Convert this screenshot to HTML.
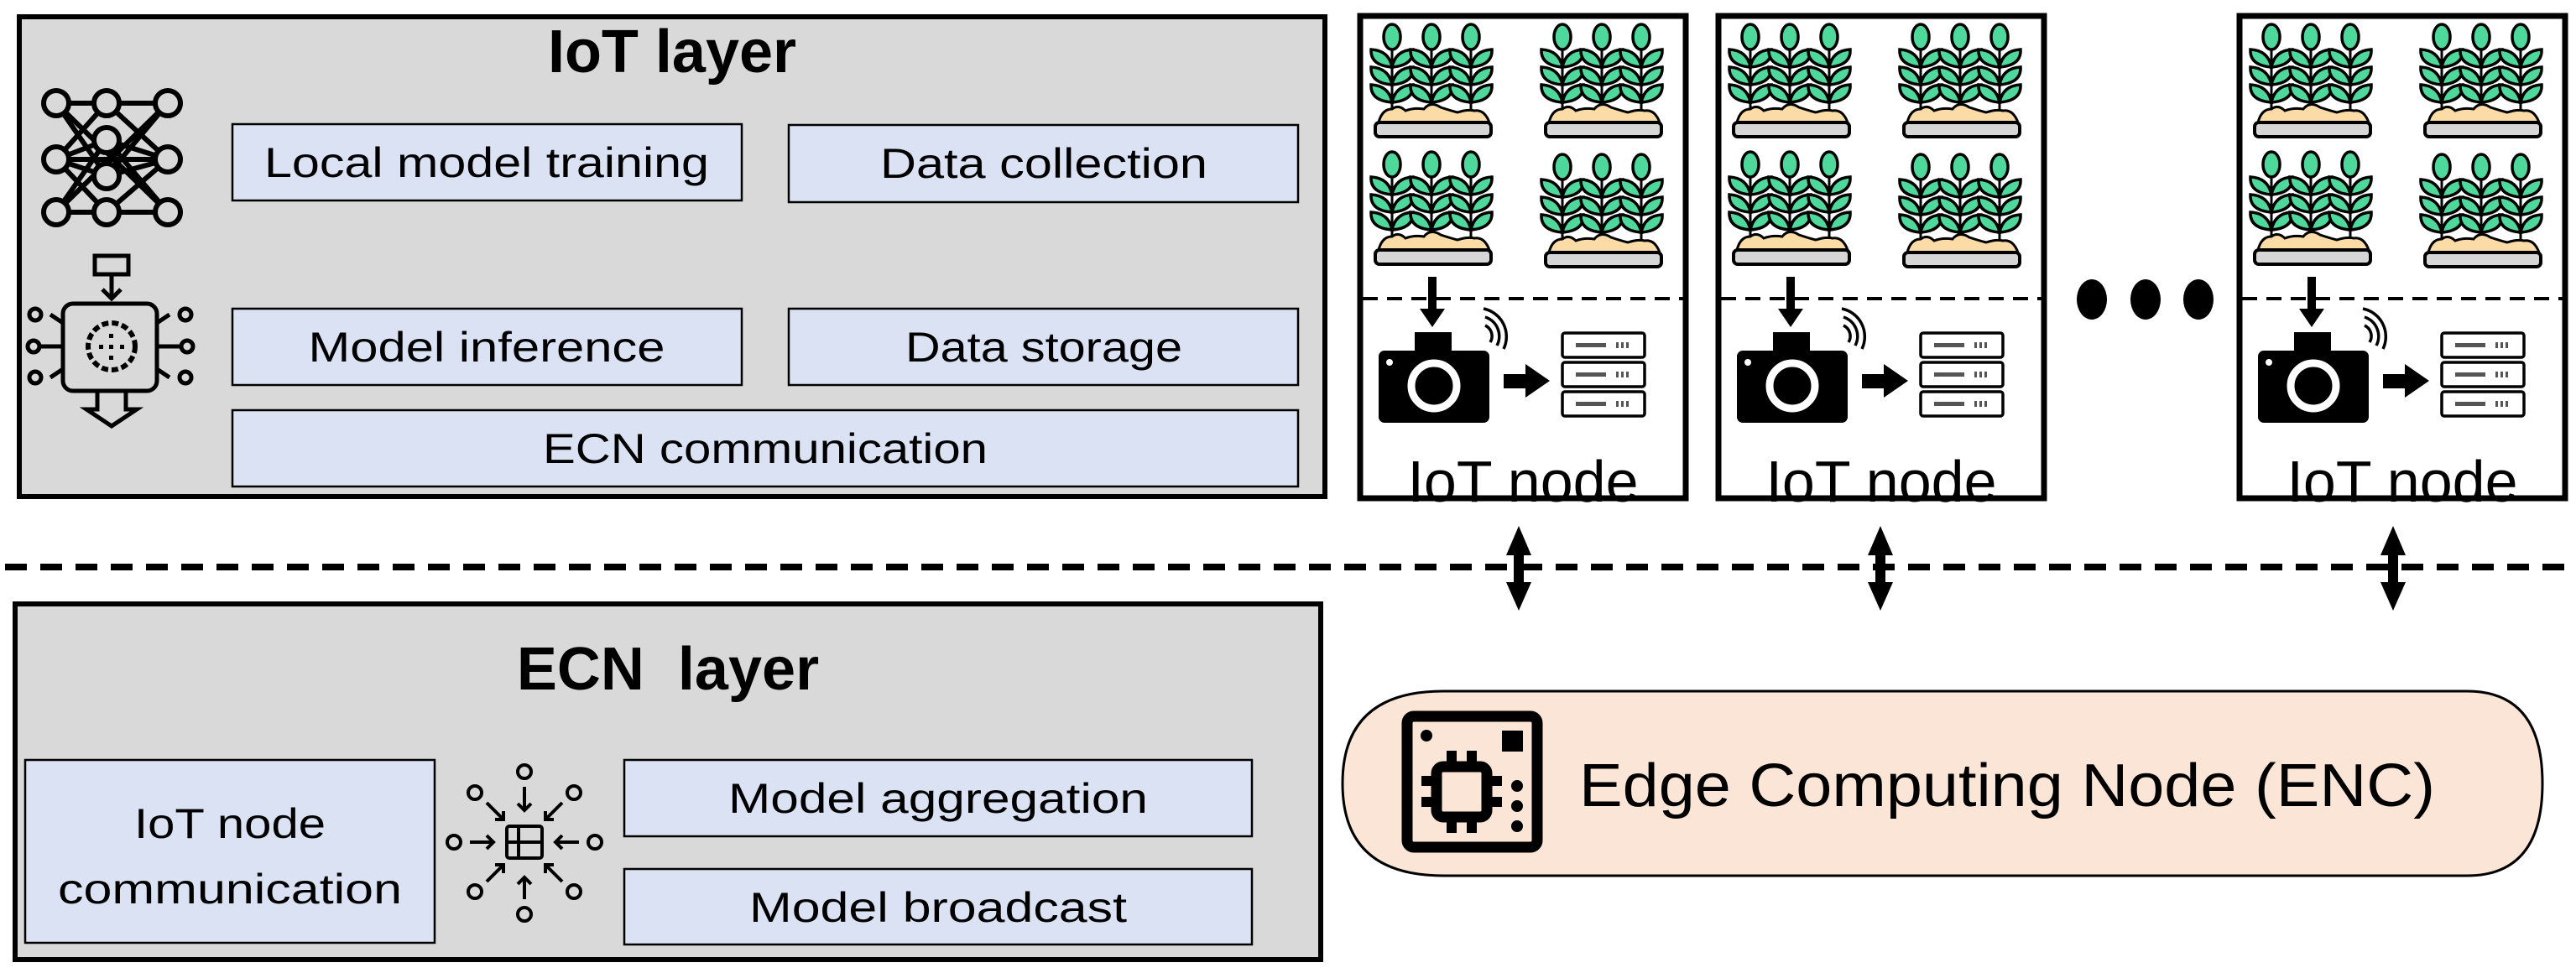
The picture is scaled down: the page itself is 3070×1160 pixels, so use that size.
<!DOCTYPE html>
<html><head><meta charset="utf-8"><style>
html,body{margin:0;padding:0;background:#fff;}
svg{display:block;}
text{font-family:"Liberation Sans",sans-serif;fill:#000;}
</style></head><body>
<svg width="3070" height="1160" viewBox="0 0 3070 1160" xmlns="http://www.w3.org/2000/svg">
<defs>
<g id="stalk">
  <line x1="0" y1="14" x2="0" y2="102" stroke="#000" stroke-width="3"/>
  <ellipse cx="0" cy="14" rx="10" ry="15" fill="#4fd89c" stroke="#000" stroke-width="3.5"/>
  <g id="lv">
    <path d="M0 50 Q-26 48 -25 29 Q-4 30 0 50 Z" fill="#4fd89c" stroke="#000" stroke-width="3.5"/>
    <path d="M0 50 Q26 48 25 29 Q4 30 0 50 Z" fill="#4fd89c" stroke="#000" stroke-width="3.5"/>
  </g>
  <use href="#lv" y="21"/>
  <use href="#lv" y="42"/>
</g>
<g id="plant">
  <use href="#stalk" x="22"/>
  <use href="#stalk" x="69"/>
  <use href="#stalk" x="116"/>
  <path d="M6 116 Q10 100 22 100 Q30 94 38 102 Q48 98 60 100 Q68 90 80 98 Q92 102 100 104 Q112 100 120 102 Q132 100 138 116 Z" fill="#fcdca6" stroke="#000" stroke-width="3"/>
  <rect x="2" y="116" width="138" height="17" rx="5" fill="#d6d6d6" stroke="#000" stroke-width="4"/>
</g>
<g id="iotbox">
  <rect x="1621" y="19" width="388" height="575" fill="#fff" stroke="#000" stroke-width="7"/>
  <use href="#plant" x="1637" y="30"/>
  <use href="#plant" x="1840" y="30"/>
  <use href="#plant" x="1637" y="182"/>
  <use href="#plant" x="1840" y="185"/>
  <line x1="1624" y1="356" x2="2006" y2="356" stroke="#000" stroke-width="4" stroke-dasharray="18,11"/>
  <rect x="1702" y="330" width="10" height="40" fill="#000"/>
  <polygon points="1692,368 1722,368 1707,390" fill="#000"/>
  <rect x="1643" y="418" width="132" height="86" rx="7" fill="#000"/>
  <rect x="1686" y="396" width="44" height="28" fill="#000"/>
  <circle cx="1709" cy="460" r="27" fill="none" stroke="#fff" stroke-width="9"/>
  <circle cx="1656" cy="432" r="4" fill="#fff"/>
  <path d="M1770 388 A14 14 0 0 1 1776 408 M1770 378 A24 24 0 0 1 1784 412 M1768 368 A34 34 0 0 1 1792 416" fill="none" stroke="#000" stroke-width="3.5"/>
  <rect x="1792" y="446" width="28" height="17" fill="#000"/>
  <polygon points="1818,434 1847,454 1818,474" fill="#000"/>
  <g fill="#fff" stroke="#000" stroke-width="3.5">
    <rect x="1862" y="397" width="98" height="29" rx="3"/>
    <rect x="1862" y="432" width="98" height="29" rx="3"/>
    <rect x="1862" y="467" width="98" height="29" rx="3"/>
  </g>
  <g fill="#555">
    <rect x="1878" y="409" width="36" height="5"/><rect x="1878" y="444" width="36" height="5"/><rect x="1878" y="479" width="36" height="5"/>
    <rect x="1926" y="408" width="3" height="7"/><rect x="1932" y="408" width="3" height="7"/><rect x="1938" y="408" width="3" height="7"/>
    <rect x="1926" y="443" width="3" height="7"/><rect x="1932" y="443" width="3" height="7"/><rect x="1938" y="443" width="3" height="7"/>
    <rect x="1926" y="478" width="3" height="7"/><rect x="1932" y="478" width="3" height="7"/><rect x="1938" y="478" width="3" height="7"/>
  </g>
</g>
<g id="darrow">
  <rect x="-6" y="650" width="12" height="60" fill="#000"/>
  <polygon points="-15,662 15,662 0,627" fill="#000"/>
  <polygon points="-15,694 15,694 0,728" fill="#000"/>
</g>
</defs>

<!-- IoT layer -->
<rect x="23" y="20" width="1556" height="572" fill="#d9d9d9" stroke="#000" stroke-width="6"/>
<text x="801" y="86" font-size="72" font-weight="bold" text-anchor="middle">IoT layer</text>
<g fill="#dae2f3" stroke="#000" stroke-width="2.5">
  <rect x="277" y="148" width="607" height="91"/>
  <rect x="940" y="149" width="607" height="92"/>
  <rect x="277" y="368" width="607" height="91"/>
  <rect x="940" y="368" width="607" height="91"/>
  <rect x="277" y="489" width="1270" height="91"/>
</g>
<g font-size="50" text-anchor="middle">
  <text x="580" y="211" textLength="530" lengthAdjust="spacingAndGlyphs">Local model training</text>
  <text x="1244" y="212" textLength="390" lengthAdjust="spacingAndGlyphs">Data collection</text>
  <text x="580" y="431" textLength="425" lengthAdjust="spacingAndGlyphs">Model inference</text>
  <text x="1244" y="431" textLength="330" lengthAdjust="spacingAndGlyphs">Data storage</text>
  <text x="912" y="552" textLength="530" lengthAdjust="spacingAndGlyphs">ECN communication</text>
</g>
<!-- neural net icon -->
<g stroke="#000" stroke-width="6" fill="none">
  <line x1="67" y1="123" x2="200" y2="123"/><line x1="67" y1="253" x2="200" y2="253"/>
  <line x1="67" y1="190" x2="200" y2="190"/>
  <line x1="67" y1="123" x2="200" y2="253"/><line x1="200" y1="123" x2="67" y2="253"/>
  <line x1="67" y1="123" x2="127" y2="210"/><line x1="200" y1="123" x2="127" y2="210"/>
  <line x1="67" y1="253" x2="127" y2="167"/><line x1="200" y1="253" x2="127" y2="167"/>
  <line x1="67" y1="190" x2="127" y2="167"/><line x1="200" y1="190" x2="127" y2="210"/>
  <line x1="67" y1="190" x2="127" y2="210"/><line x1="200" y1="190" x2="127" y2="167"/>
  <line x1="127" y1="123" x2="67" y2="190"/><line x1="127" y1="123" x2="200" y2="190"/>
  <line x1="127" y1="253" x2="67" y2="190"/><line x1="127" y1="253" x2="200" y2="190"/>
</g>
<g stroke="#000" stroke-width="6" fill="#d9d9d9">
  <circle cx="67" cy="123" r="15"/><circle cx="127" cy="123" r="15"/><circle cx="200" cy="123" r="15"/>
  <circle cx="67" cy="190" r="15"/><circle cx="200" cy="190" r="15"/>
  <circle cx="127" cy="167" r="15"/><circle cx="127" cy="210" r="15"/>
  <circle cx="67" cy="253" r="15"/><circle cx="127" cy="253" r="15"/><circle cx="200" cy="253" r="15"/>
</g>
<!-- inference icon -->
<g stroke="#000" stroke-width="5" fill="none">
  <rect x="113" y="305" width="40" height="22"/>
  <line x1="133" y1="327" x2="133" y2="356"/>
  <polyline points="122,345 133,356 144,345"/>
  <rect x="75" y="362" width="112" height="104" rx="12"/>
  <circle cx="133" cy="413" r="28" stroke-dasharray="8,4" stroke-width="6"/>
  <path d="M75 385 L60 375 M75 413 L48 413 M75 440 L60 450 M187 385 L202 375 M187 413 L214 413 M187 440 L202 450"/>
  <circle cx="42" cy="375" r="7"/><circle cx="40" cy="413" r="7"/><circle cx="42" cy="450" r="7"/>
  <circle cx="221" cy="375" r="7"/><circle cx="223" cy="413" r="7"/><circle cx="221" cy="450" r="7"/>
  <path d="M116 466 L116 488 L103 488 L133 508 L163 488 L150 488 L150 466"/>
</g>
<g fill="#000"><rect x="130" y="398" width="5" height="5"/><rect x="130" y="411" width="5" height="5"/><rect x="130" y="424" width="5" height="5"/><rect x="118" y="411" width="5" height="5"/><rect x="143" y="411" width="5" height="5"/></g>

<!-- dashed separator -->
<line x1="6" y1="676" x2="3070" y2="676" stroke="#000" stroke-width="8" stroke-dasharray="26,16"/>

<!-- ECN layer -->
<rect x="18" y="720" width="1556" height="424" fill="#d9d9d9" stroke="#000" stroke-width="6"/>
<text x="796" y="822" font-size="72" font-weight="bold" text-anchor="middle" xml:space="preserve">ECN  layer</text>
<g fill="#dae2f3" stroke="#000" stroke-width="2.5">
  <rect x="30" y="906" width="488" height="218"/>
  <rect x="744" y="906" width="748" height="91"/>
  <rect x="744" y="1036" width="748" height="90"/>
</g>
<g font-size="50" text-anchor="middle">
  <text x="274" y="999" textLength="228" lengthAdjust="spacingAndGlyphs">IoT node</text>
  <text x="274" y="1077" textLength="410" lengthAdjust="spacingAndGlyphs">communication</text>
  <text x="1118" y="969" textLength="500" lengthAdjust="spacingAndGlyphs">Model aggregation</text>
  <text x="1118" y="1099" textLength="450" lengthAdjust="spacingAndGlyphs">Model broadcast</text>
</g>
<!-- aggregation icon -->
<g stroke="#000" stroke-width="4" fill="#d9d9d9">
  <rect x="604" y="985" width="42" height="38" rx="3"/>
  <circle cx="625" cy="920" r="8"/><circle cx="625" cy="1090" r="8"/>
  <circle cx="541" cy="1004" r="8"/><circle cx="709" cy="1004" r="8"/>
  <circle cx="566" cy="945" r="8"/><circle cx="684" cy="945" r="8"/>
  <circle cx="566" cy="1063" r="8"/><circle cx="684" cy="1063" r="8"/>
</g>
<g stroke="#000" stroke-width="4" fill="none">
  <line x1="618" y1="985" x2="618" y2="1023"/><line x1="604" y1="1004" x2="646" y2="1004"/>
  <path d="M625 938 V966 M617 958 L625 966 L633 958"/>
  <path d="M625 1072 V1046 M617 1054 L625 1046 L633 1054"/>
  <path d="M560 1004 H588 M580 996 L588 1004 L580 1012"/>
  <path d="M690 1004 H662 M670 996 L662 1004 L670 1012"/>
  <path d="M580 957 L600 977 M590 977 H600 V967"/>
  <path d="M670 957 L650 977 M660 977 H650 V967"/>
  <path d="M580 1051 L600 1031 M590 1031 H600 V1041"/>
  <path d="M670 1051 L650 1031 M660 1031 H650 V1041"/>
</g>

<!-- IoT node boxes -->
<use href="#iotbox"/>
<use href="#iotbox" x="427"/>
<use href="#iotbox" x="1048"/>
<g font-size="70" text-anchor="middle">
  <text x="1815" y="598">IoT node</text>
  <text x="2242" y="598">IoT node</text>
  <text x="2863" y="598">IoT node</text>
</g>
<g fill="#000">
  <ellipse cx="2493" cy="357" rx="18" ry="24"/>
  <ellipse cx="2557" cy="357" rx="18" ry="24"/>
  <ellipse cx="2620" cy="357" rx="18" ry="24"/>
</g>
<use href="#darrow" x="1810"/>
<use href="#darrow" x="2241"/>
<use href="#darrow" x="2852"/>

<!-- ENC pill -->
<path d="M1720 824 H2940 Q3030 824 3030 934 Q3030 1044 2940 1044 H1720 Q1600 1044 1600 934 Q1600 824 1720 824 Z" fill="#fbe5d6" stroke="#000" stroke-width="3"/>
<rect x="1677" y="854" width="155" height="156" rx="8" fill="none" stroke="#000" stroke-width="13"/>
<circle cx="1700" cy="877" r="7" fill="#000"/>
<rect x="1790" y="871" width="25" height="25" fill="#000"/>
<circle cx="1808" cy="937" r="7" fill="#000"/><circle cx="1808" cy="961" r="7" fill="#000"/><circle cx="1808" cy="985" r="7" fill="#000"/>
<rect x="1712" y="914" width="60" height="60" rx="8" fill="none" stroke="#000" stroke-width="13"/>
<g fill="#000">
  <rect x="1724" y="895" width="12" height="20"/><rect x="1748" y="895" width="12" height="20"/>
  <rect x="1724" y="973" width="12" height="20"/><rect x="1748" y="973" width="12" height="20"/>
  <rect x="1694" y="925" width="20" height="12"/><rect x="1694" y="950" width="20" height="12"/>
  <rect x="1770" y="925" width="20" height="12"/><rect x="1770" y="950" width="20" height="12"/>
</g>
<text x="1882" y="961" font-size="72" textLength="1020" lengthAdjust="spacingAndGlyphs">Edge Computing Node (ENC)</text>
</svg>
</body></html>
